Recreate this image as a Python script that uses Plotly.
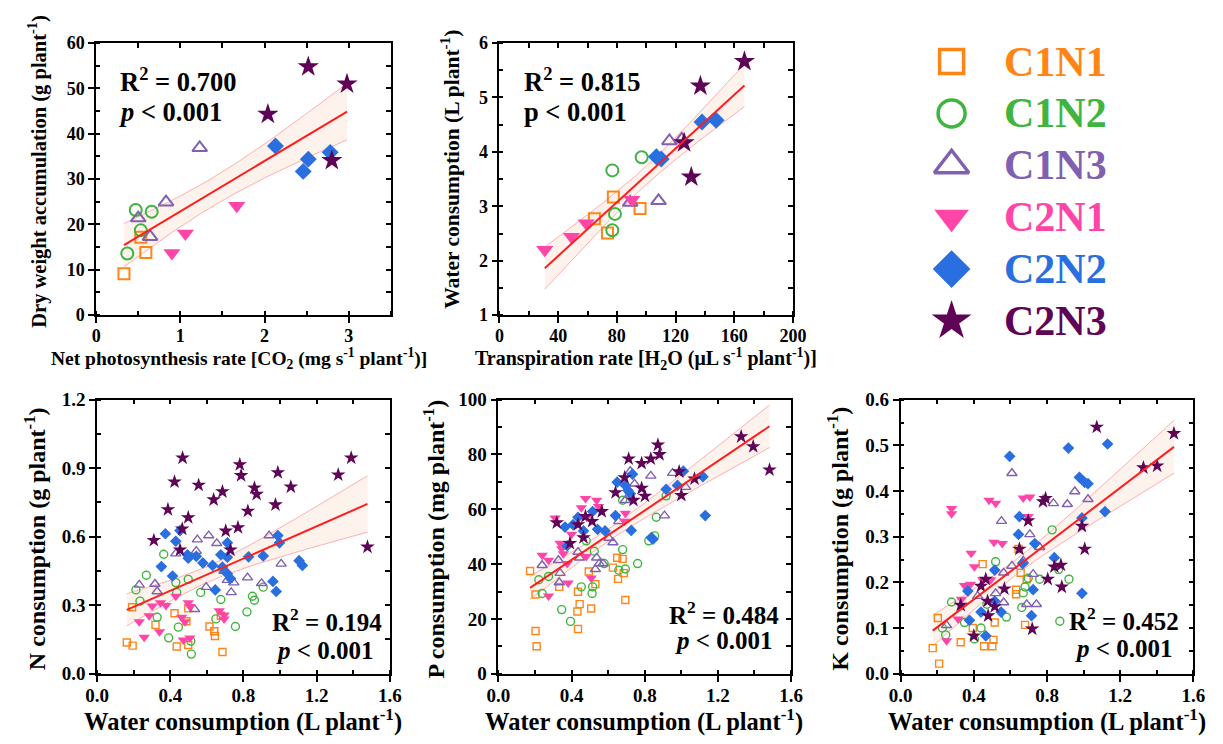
import numpy as np
import plotly.graph_objects as go

W, H = 1223, 744
FONT = "Liberation Serif"

groups = ["C1N1", "C1N2", "C1N3", "C2N1", "C2N2", "C2N3"]
colors = ["#FF8517", "#3FB53F", "#8060B0", "#FF45A8", "#2A6FE0", "#5E0356"]
symbols = ["square-open", "circle-open", "triangle-up-open", "triangle-down", "diamond", "star"]

# ---------------- Panel A: net photosynthesis vs dry weight ----------------
A_C1N1_x = [0.33, 0.53, 0.59]
A_C1N1_y = [9.1, 17.2, 13.8]
A_C1N2_x = [0.37, 0.47, 0.53, 0.66]
A_C1N2_y = [13.6, 23.2, 18.7, 22.8]
A_C1N3_x = [0.50, 0.64, 0.83, 1.23]
A_C1N3_y = [21.4, 17.3, 24.9, 36.9]
A_C2N1_x = [0.90, 1.06, 1.67]
A_C2N1_y = [13.7, 18.0, 24.1]
A_C2N2_x = [2.13, 2.46, 2.52, 2.78]
A_C2N2_y = [37.3, 31.7, 34.4, 35.9]
A_C2N3_x = [2.04, 2.52, 2.80, 2.98]
A_C2N3_y = [44.3, 54.8, 34.1, 51.0]

# ---------------- Panel B: transpiration vs water consumption ----------------
B_C1N1_x = [64.7, 73.6, 77.6, 95.8]
B_C1N1_y = [2.77, 2.51, 3.17, 2.96]
B_C1N2_x = [76.9, 76.9, 78.7, 96.9]
B_C1N2_y = [2.56, 3.66, 2.86, 3.90]
B_C1N3_x = [89.1, 108.4, 115.8, 124.2]
B_C1N3_y = [3.07, 3.10, 4.20, 4.23]
B_C2N1_x = [30.9, 49.1, 59.1, 90.2]
B_C2N1_y = [2.20, 2.44, 2.69, 3.12]
B_C2N2_x = [106.9, 110.2, 138.0, 147.6]
B_C2N2_y = [3.91, 3.87, 4.55, 4.58]
B_C2N3_x = [125.8, 130.7, 136.9, 166.9]
B_C2N3_y = [4.17, 3.54, 5.21, 5.66]

# ---------------- Panel N ----------------
N_C1N1_x = [0.191, 0.162, 0.194, 0.319, 0.423, 0.498, 0.435, 0.498, 0.614, 0.640, 0.644, 0.685, 0.676, 0.488]
N_C1N1_y = [0.291, 0.137, 0.123, 0.214, 0.265, 0.286, 0.119, 0.126, 0.207, 0.186, 0.165, 0.095, 0.254, 0.230]
N_C1N2_x = [0.364, 0.269, 0.212, 0.234, 0.430, 0.498, 0.435, 0.566, 0.685, 0.676, 0.849, 0.860, 0.908, 0.819, 0.756, 0.328, 0.444, 0.391, 0.512, 0.515, 0.649]
N_C1N2_y = [0.523, 0.431, 0.367, 0.318, 0.399, 0.413, 0.356, 0.356, 0.460, 0.325, 0.339, 0.322, 0.379, 0.271, 0.207, 0.247, 0.204, 0.157, 0.143, 0.086, 0.240]
N_C1N3_x = [0.548, 0.610, 0.654, 0.940, 0.430, 0.542, 1.006, 0.230, 0.316, 0.328, 0.596, 0.694, 0.712, 0.747, 0.822, 0.899, 0.733, 0.533]
N_C1N3_y = [0.587, 0.605, 0.571, 0.605, 0.526, 0.537, 0.481, 0.389, 0.393, 0.360, 0.379, 0.450, 0.410, 0.399, 0.421, 0.396, 0.356, 0.282]
N_C2N1_x = [0.301, 0.346, 0.376, 0.430, 0.498, 0.507, 0.230, 0.284, 0.341, 0.257, 0.462, 0.480, 0.507, 0.471, 0.667, 0.694, 0.694]
N_C2N1_y = [0.297, 0.311, 0.299, 0.339, 0.311, 0.294, 0.228, 0.254, 0.184, 0.160, 0.247, 0.228, 0.156, 0.148, 0.276, 0.257, 0.240]
N_C2N2_x = [0.373, 0.430, 0.453, 0.712, 0.494, 0.498, 0.542, 0.578, 0.631, 0.676, 0.712, 0.351, 0.412, 0.685, 0.712, 0.729, 0.828, 0.908, 0.988, 0.997, 1.104, 1.122, 0.646, 0.961, 0.979]
N_C2N2_y = [0.613, 0.580, 0.627, 0.573, 0.521, 0.506, 0.514, 0.485, 0.474, 0.521, 0.510, 0.469, 0.428, 0.467, 0.438, 0.417, 0.512, 0.516, 0.605, 0.573, 0.495, 0.474, 0.367, 0.404, 0.360]
N_C2N3_x = [0.467, 0.780, 1.389, 0.423, 0.787, 0.988, 1.318, 0.555, 0.685, 0.637, 0.860, 0.872, 1.059, 0.975, 0.387, 0.824, 0.498, 0.465, 0.770, 0.703, 0.310, 0.453, 0.729, 1.478]
N_C2N3_y = [0.945, 0.916, 0.945, 0.840, 0.868, 0.881, 0.871, 0.826, 0.797, 0.762, 0.814, 0.786, 0.818, 0.740, 0.719, 0.712, 0.684, 0.634, 0.640, 0.625, 0.584, 0.542, 0.542, 0.555]

# ---------------- Panel P ----------------
P_C1N1_x = [0.173, 0.203, 0.332, 0.649, 0.679, 0.626, 0.654, 0.685, 0.494, 0.530, 0.435, 0.444, 0.432, 0.507, 0.435, 0.203, 0.209, 0.694]
P_C1N1_y = [37.5, 28.9, 31.7, 42.3, 41.9, 38.7, 34.6, 36.7, 37.3, 32.7, 29.9, 25.4, 22.7, 23.8, 16.3, 15.6, 10.0, 26.9]
P_C1N2_x = [0.917, 0.863, 0.679, 0.524, 0.679, 0.578, 0.761, 0.658, 0.694, 0.274, 0.221, 0.239, 0.453, 0.515, 0.512, 0.346, 0.394, 0.822, 0.854, 0.480]
P_C1N2_y = [64.9, 57.1, 63.3, 44.7, 45.3, 40.2, 40.2, 37.8, 38.2, 35.5, 34.3, 29.3, 31.7, 31.7, 29.3, 23.4, 19.1, 48.5, 50.3, 48.5]
P_C1N3_x = [0.721, 0.833, 0.952, 0.744, 1.024, 0.694, 0.908, 0.658, 0.604, 0.626, 0.435, 0.444, 0.328, 0.239, 0.537, 0.551, 0.572, 0.337, 0.333, 0.530]
P_C1N3_y = [73.9, 72.2, 73.2, 69.3, 68.1, 63.3, 57.7, 55.6, 49.5, 47.9, 44.4, 42.3, 41.4, 39.6, 42.3, 40.2, 40.2, 36.7, 33.3, 38.1]
P_C2N1_x = [0.476, 0.537, 0.453, 0.547, 0.310, 0.483, 0.694, 0.690, 0.400, 0.337, 0.346, 0.355, 0.239, 0.274, 0.480, 0.376, 0.381, 0.274, 0.507]
P_C2N1_y = [63.9, 63.3, 60.6, 61.0, 56.8, 57.1, 58.6, 55.6, 50.9, 47.6, 45.6, 43.8, 43.2, 41.4, 42.8, 40.2, 33.1, 28.4, 34.9]
P_C2N2_x = [0.733, 0.649, 0.694, 0.708, 0.721, 1.011, 0.979, 0.917, 1.118, 0.515, 0.435, 0.408, 0.465, 0.542, 0.583, 0.640, 0.364, 0.376, 0.726, 0.836, 0.845, 1.131]
P_C2N2_y = [72.8, 69.9, 68.7, 66.9, 65.7, 73.9, 68.7, 67.3, 71.9, 59.2, 57.1, 54.4, 52.1, 52.7, 52.1, 57.7, 53.5, 46.7, 52.3, 49.7, 49.1, 57.7]
P_C2N3_x = [0.872, 0.881, 0.712, 0.833, 0.783, 0.988, 0.690, 1.072, 0.783, 0.801, 0.640, 0.738, 1.000, 0.565, 0.476, 0.435, 0.512, 0.319, 0.465, 0.391, 1.327, 1.393, 1.482]
P_C2N3_y = [83.5, 80.0, 78.4, 78.4, 76.8, 73.7, 71.6, 71.1, 67.7, 64.8, 66.1, 63.3, 65.1, 59.2, 57.4, 54.4, 55.6, 55.1, 49.7, 47.6, 86.5, 82.9, 74.4]

# ---------------- Panel K ----------------
K_C1N1_x = [0.175, 0.210, 0.203, 0.328, 0.448, 0.514, 0.456, 0.501, 0.507, 0.394, 0.631, 0.631, 0.644, 0.656, 0.680, 0.689]
K_C1N1_y = [0.056, 0.022, 0.122, 0.069, 0.240, 0.112, 0.060, 0.060, 0.074, 0.100, 0.184, 0.174, 0.273, 0.221, 0.107, 0.207]
K_C1N2_x = [0.828, 0.519, 0.920, 0.863, 0.760, 0.697, 0.670, 0.662, 0.578, 0.439, 0.403, 0.278, 0.349, 0.228, 0.246, 0.870, 0.471, 0.680]
K_C1N2_y = [0.315, 0.245, 0.207, 0.228, 0.207, 0.209, 0.177, 0.145, 0.124, 0.100, 0.076, 0.157, 0.112, 0.100, 0.085, 0.115, 0.152, 0.190]
K_C1N3_x = [0.608, 0.952, 0.835, 0.911, 1.024, 0.551, 0.706, 0.760, 0.670, 0.724, 0.563, 0.563, 0.519, 0.689, 0.742, 0.608, 0.251, 0.421]
K_C1N3_y = [0.439, 0.399, 0.373, 0.371, 0.382, 0.334, 0.305, 0.277, 0.247, 0.218, 0.221, 0.156, 0.176, 0.152, 0.152, 0.236, 0.106, 0.170]
K_C2N1_x = [0.278, 0.278, 0.483, 0.519, 0.670, 0.706, 0.697, 0.510, 0.555, 0.385, 0.403, 0.448, 0.349, 0.381, 0.332, 0.492, 0.314, 0.251]
K_C2N1_y = [0.362, 0.350, 0.380, 0.373, 0.385, 0.387, 0.344, 0.288, 0.285, 0.264, 0.234, 0.206, 0.193, 0.196, 0.163, 0.206, 0.120, 0.072]
K_C2N2_x = [0.596, 0.917, 1.131, 0.977, 1.006, 1.024, 1.117, 0.649, 0.644, 0.733, 0.840, 0.991, 0.367, 0.514, 0.439, 0.376, 0.465, 0.514, 0.549, 0.724, 0.715, 0.991, 0.667]
K_C2N2_y = [0.476, 0.494, 0.503, 0.430, 0.419, 0.416, 0.355, 0.344, 0.305, 0.285, 0.254, 0.341, 0.181, 0.227, 0.135, 0.117, 0.083, 0.159, 0.135, 0.184, 0.127, 0.176, 0.241]
K_C2N3_x = [1.072, 1.494, 1.327, 1.402, 0.792, 0.778, 0.697, 0.649, 0.991, 1.006, 0.840, 0.876, 0.804, 0.881, 0.465, 0.439, 0.328, 0.475, 0.478, 0.514, 0.567, 0.400, 0.719]
K_C2N3_y = [0.540, 0.526, 0.451, 0.455, 0.384, 0.377, 0.335, 0.273, 0.323, 0.273, 0.234, 0.238, 0.207, 0.190, 0.207, 0.192, 0.150, 0.159, 0.127, 0.147, 0.186, 0.083, 0.098]

stats_text = {
    "A": ("R<sup>2</sup> = 0.700", "<i>p</i> < 0.001"),
    "B": ("R<sup>2</sup> = 0.815", "p < 0.001"),
    "N": ("R<sup>2</sup> = 0.194", "<i>p</i> < 0.001"),
    "P": ("R<sup>2</sup> = 0.484", "<i>p</i> < 0.001"),
    "K": ("R<sup>2</sup> = 0.452", "<i>p</i> < 0.001"),
}

G = globals()


def series(p, g):
    return G[f"{p}_{g}_x"], G[f"{p}_{g}_y"]


def tval(df):
    z = 1.959964
    return z + (z ** 3 + z) / (4 * df) + (5 * z ** 5 + 16 * z ** 3 + 3 * z) / (96 * df ** 2)


def fit(xs, ys):
    x = np.asarray(xs, float)
    y = np.asarray(ys, float)
    n = len(x)
    b, a = np.polyfit(x, y, 1)
    res = y - (a + b * x)
    s = np.sqrt(np.sum(res ** 2) / (n - 2))
    sxx = np.sum((x - x.mean()) ** 2)
    gx = np.linspace(x.min(), x.max(), 80)
    gy = a + b * gx
    se = s * np.sqrt(1 / n + (gx - x.mean()) ** 2 / sxx)
    t = tval(n - 2)
    return gx, gy, gy - t * se, gy + t * se


def px_x(a, b):
    return [a / W, b / W]


def px_y(top, bottom):
    return [1 - bottom / H, 1 - top / H]


# panel layout specs (pixels)
panels = [
    dict(key="A", idx=1, xd=(86, 387), yd=(34, 314), xr=[0, 3.5], yr=[0, 60],
         xdt=1, xmn=0.5, ydt=10, ymn=5, xfmt="", yfmt="", tfs=18, big=True),
    dict(key="B", idx=2, xd=(498, 798), yd=(34, 314), xr=[0, 200], yr=[1, 6],
         xdt=40, xmn=20, ydt=1, ymn=0.5, xfmt="", yfmt="", tfs=18, big=True),
    dict(key="N", idx=3, xd=(87, 386), yd=(401, 683), xr=[0, 1.6], yr=[0, 1.2],
         xdt=0.4, xmn=0.2, ydt=0.3, ymn=0.15, xfmt=".1f", yfmt=".1f", tfs=19, big=False),
    dict(key="P", idx=4, xd=(497, 796), yd=(401, 683), xr=[0, 1.6], yr=[0, 100],
         xdt=0.4, xmn=0.2, ydt=20, ymn=10, xfmt=".1f", yfmt="", tfs=19, big=False),
    dict(key="K", idx=5, xd=(908, 1207), yd=(401, 683), xr=[0, 1.6], yr=[0, 0.6],
         xdt=0.4, xmn=0.2, ydt=0.1, ymn=0.05, xfmt=".1f", yfmt=".1f", tfs=19, big=False),
]

size_big = [11, 12, 13, 15, 13, 16]
size_small = [7, 8, 9, 10, 9, 11]

fig = go.Figure()
layout = dict(
    width=W, height=H, margin=dict(l=0, r=0, t=0, b=0),
    paper_bgcolor="white", plot_bgcolor="white", showlegend=False,
    font=dict(family=FONT, color="black"),
)

for p in panels:
    i = p["idx"]
    xa, ya = f"x{i}", f"y{i}"
    allx, ally = [], []
    for g in groups:
        sx, sy = series(p["key"], g)
        allx += sx
        ally += sy
    gx, gy, lo, hi = fit(allx, ally)
    # confidence band
    fig.add_trace(go.Scatter(x=gx, y=lo, mode="lines", xaxis=xa, yaxis=ya,
                             line=dict(color="rgba(255,150,150,0.75)", width=1), hoverinfo="skip"))
    fig.add_trace(go.Scatter(x=gx, y=hi, mode="lines", xaxis=xa, yaxis=ya, fill="tonexty",
                             fillcolor="rgba(252,222,200,0.35)",
                             line=dict(color="rgba(255,150,150,0.75)", width=1), hoverinfo="skip"))
    sizes = size_big if p["big"] else size_small
    lw = 2 if p["big"] else 1.4
    for gi, g in enumerate(groups):
        sx, sy = series(p["key"], g)
        fig.add_trace(go.Scatter(
            x=sx, y=sy, mode="markers", xaxis=xa, yaxis=ya, name=g,
            marker=dict(symbol=symbols[gi], size=sizes[gi], color=colors[gi],
                        line=dict(width=lw, color=colors[gi]) if "open" in symbols[gi] else dict(width=0)),
        ))
    fig.add_trace(go.Scatter(x=gx, y=gy, mode="lines", xaxis=xa, yaxis=ya,
                             line=dict(color="#FF1E1E", width=2), hoverinfo="skip"))
    # dummy for overlay axes
    fig.add_trace(go.Scatter(x=[], y=[], xaxis=f"x{10 + i}", yaxis=f"y{10 + i}", hoverinfo="skip"))

    tickfont = dict(family=FONT, size=p["tfs"], color="black", weight="bold")
    common = dict(showline=True, linecolor="black", linewidth=1.6, showgrid=False, zeroline=False,
                  ticks="outside", ticklen=6, tickwidth=1.5, tickcolor="black", tickfont=tickfont)
    layout[f"xaxis{i}"] = dict(domain=px_x(*p["xd"]), anchor=ya, range=p["xr"], tick0=p["xr"][0],
                               dtick=p["xdt"], tickformat=p["xfmt"],
                               ticklabelstandoff=-3 if p["big"] else -2,
                               minor=dict(dtick=p["xmn"], tick0=p["xr"][0], ticks="inside", ticklen=4,
                                          tickwidth=1.5, tickcolor="black"),
                               **common)
    layout[f"yaxis{i}"] = dict(domain=px_y(*p["yd"]), anchor=xa, range=p["yr"], tick0=p["yr"][0],
                               dtick=p["ydt"], tickformat=p["yfmt"],
                               minor=dict(dtick=p["ymn"], tick0=p["yr"][0], ticks="inside", ticklen=4,
                                          tickwidth=1.5, tickcolor="black"),
                               **common)
    layout[f"xaxis{10 + i}"] = dict(overlaying=xa, anchor=ya, side="top", range=p["xr"], tick0=p["xr"][0],
                                    dtick=p["xmn"], showticklabels=False, showline=True, linecolor="black",
                                    linewidth=1.6, showgrid=False, zeroline=False, ticks="inside",
                                    ticklen=5, tickwidth=1.5, tickcolor="black")
    layout[f"yaxis{10 + i}"] = dict(overlaying=ya, anchor=xa, side="right", range=p["yr"], tick0=p["yr"][0],
                                    dtick=p["ymn"], showticklabels=False, showline=True, linecolor="black",
                                    linewidth=1.6, showgrid=False, zeroline=False, ticks="inside",
                                    ticklen=5, tickwidth=1.5, tickcolor="black")

# ---------------- legend (custom) ----------------
lx = [0] * len(groups)
ly = list(range(len(groups)))
leg_sizes = [24, 27, 30, 30, 29, 30]
for gi, g in enumerate(groups):
    fig.add_trace(go.Scatter(
        x=[lx[gi]], y=[ly[gi]], mode="markers", xaxis="x6", yaxis="y6",
        marker=dict(symbol=symbols[gi], size=leg_sizes[gi], color=colors[gi],
                    line=dict(width=3.5, color=colors[gi]) if "open" in symbols[gi] else dict(width=0)),
        hoverinfo="skip"))
layout["xaxis6"] = dict(domain=px_x(940, 980), anchor="y6", range=[-1, 1], visible=False)
layout["yaxis6"] = dict(domain=px_y(26.3, 346.7), anchor="x6", range=[5.5, -0.5], visible=False)

annotations = []
for gi, g in enumerate(groups):
    annotations.append(dict(text=f"<b>{g}</b>", x=1012 / W, xref="paper", xanchor="left",
                            y=ly[gi], yref="y6", yanchor="middle", showarrow=False,
                            font=dict(family=FONT, size=42, color=colors[gi])))

# ---------------- axis titles ----------------
ytitles = [
    ("Dry weight accumulation (g plant<sup>-1</sup>)", 26, 166, 20.5),
    ("Water consumption (L plant<sup>-1</sup>)", 448, 164, 21.5),
    ("N consumption (g plant<sup>-1</sup>)", 23, 544, 24),
    ("P consumption (mg plant<sup>-1</sup>)", 431, 544, 24),
    ("K consumption (g plant<sup>-1</sup>)", 844, 544, 24),
]
for t, xpx, ypx, fs in ytitles:
    annotations.append(dict(text=f"<b>{t}</b>", x=xpx / W, y=1 - ypx / H, xref="paper", yref="paper",
                            xanchor="center", yanchor="middle", textangle=-90, showarrow=False,
                            font=dict(family=FONT, size=fs, color="black")))
xtitles = [
    ("Net photosynthesis rate [CO<sub>2</sub> (mg s<sup>-1</sup> plant<sup>-1</sup>)]", 232, 359, 19.5),
    ("Transpiration rate [H<sub>2</sub>O (μL s<sup>-1</sup> plant<sup>-1</sup>)]", 648, 359, 20),
    ("Water consumption (L plant<sup>-1</sup>)", 236, 731, 24.5),
    ("Water consumption (L plant<sup>-1</sup>)", 646, 731, 24.5),
    ("Water consumption (L plant<sup>-1</sup>)", 1057, 731, 24.5),
]
for t, xpx, ypx, fs in xtitles:
    annotations.append(dict(text=f"<b>{t}</b>", x=xpx / W, y=1 - ypx / H, xref="paper", yref="paper",
                            xanchor="center", yanchor="middle", showarrow=False,
                            font=dict(family=FONT, size=fs, color="black")))

# ---------------- stats text ----------------
stat_pos = {
    "A": [(108, 72, "left"), (107, 105, "left")],
    "B": [(521, 72, "left"), (521, 105, "left")],
    "N": [(380, 628, "right"), (268, 659, "left")],
    "P": [(786, 620, "right"), (675, 649, "left")],
    "K": [(1194, 627, "right"), (1084, 657, "left")],
}
for key, (r2, pv) in stats_text.items():
    fs = 26.5 if key in ("A", "B") else 25
    for txt, (xpx, ypx, anc) in zip((r2, pv), stat_pos[key]):
        annotations.append(dict(text=f"<b>{txt}</b>", x=xpx / W, y=1 - ypx / H, xref="paper", yref="paper",
                                xanchor=anc, yanchor="middle", showarrow=False,
                                font=dict(family=FONT, size=fs, color="black")))

layout["annotations"] = annotations
fig.update_layout(**layout)
fig.write_html("out.html")
